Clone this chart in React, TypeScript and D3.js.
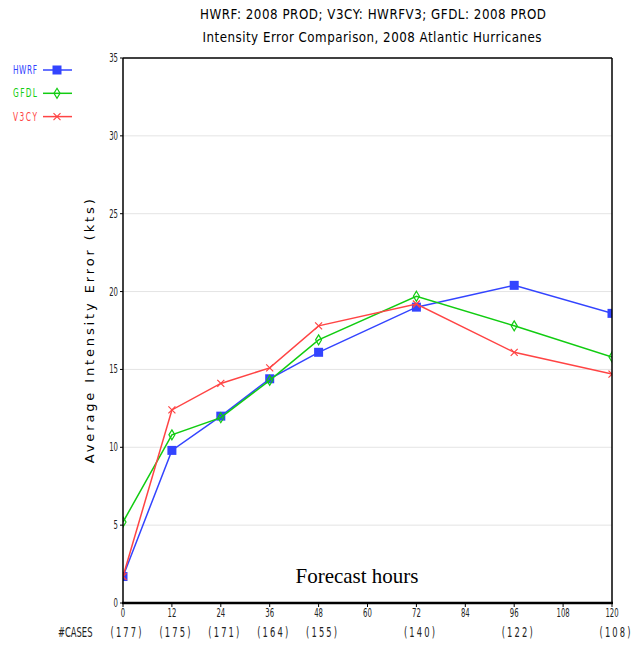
import React from 'react';
import { scaleLinear, line, range } from 'd3';

const hours = [0, 12, 24, 36, 48, 72, 96, 120];
const hwrf = [1.7, 9.8, 12.0, 14.4, 16.1, 19.0, 20.4, 18.6];
const gfdl = [5.2, 10.8, 11.9, 14.3, 16.9, 19.7, 17.8, 15.8];
const v3cy = [1.7, 12.4, 14.1, 15.1, 17.8, 19.2, 16.1, 14.7];
const cases = ['(177)', '(175)', '(171)', '(164)', '(155)', '(140)', '(122)', '(108)'];
const xTicks = range(0, 121, 12);
const yTicks = [0, 5, 10, 15, 20, 25, 30, 35];

const series = [
  { name: 'HWRF', values: hwrf, color: '#3344ff', marker: 'square' },
  { name: 'GFDL', values: gfdl, color: '#11cc11', marker: 'diamond' },
  { name: 'V3CY', values: v3cy, color: '#ff4444', marker: 'cross' },
];

const sans = '"DejaVu Sans", sans-serif';

// squeezed text, like the narrow plotting font of the original
function Narrow({
  x,
  y,
  size,
  sx = 0.72,
  len,
  anchor = 'start',
  fill = '#000',
  children,
}: {
  x: number;
  y: number;
  size: number;
  sx?: number;
  len?: number;
  anchor?: string;
  fill?: string;
  children: React.ReactNode;
}) {
  return (
    <g transform={`translate(${x},${y}) scale(${sx},1)`}>
      <text
        textAnchor={anchor}
        fontFamily={sans}
        fontSize={size}
        fill={fill}
        textLength={len ? len / sx : undefined}
        lengthAdjust={len ? 'spacing' : undefined}
      >
        {children}
      </text>
    </g>
  );
}

function Marker({ type, x, y, color }: { type: string; x: number; y: number; color: string }) {
  if (type === 'square') {
    return <rect x={x - 4.5} y={y - 4.5} width={9} height={9} fill={color} />;
  }
  if (type === 'diamond') {
    return (
      <path
        d={`M${x},${y - 5}L${x + 3},${y}L${x},${y + 5}L${x - 3},${y}Z`}
        fill="none"
        stroke={color}
        strokeWidth={1.2}
      />
    );
  }
  return (
    <path
      d={`M${x - 3.5},${y - 3.5}L${x + 3.5},${y + 3.5}M${x + 3.5},${y - 3.5}L${x - 3.5},${y + 3.5}`}
      stroke={color}
      strokeWidth={1.2}
    />
  );
}

export default function App() {
  const width = 634;
  const height = 646;
  const left = 123;
  const right = 612;
  const top = 58;
  const bottom = 603;

  const x = scaleLinear().domain([0, 120]).range([left, right]);
  const y = scaleLinear().domain([0, 35]).range([bottom, top]);

  const lineGen = line<number>()
    .x((d, i) => x(hours[i]))
    .y((d) => y(d));

  return (
    <svg
      width={width}
      height={height}
      style={{ position: 'absolute', left: 0, top: 0, background: '#fff' }}
    >
      <defs>
        <clipPath id="plot">
          <rect x={left} y={top} width={right - left} height={bottom - top} />
        </clipPath>
      </defs>

      {/* titles */}
      <Narrow x={373} y={19} size={14} sx={0.85} len={346} anchor="middle">
        HWRF: 2008 PROD; V3CY: HWRFV3; GFDL: 2008 PROD
      </Narrow>
      <Narrow x={372} y={42} size={14} sx={0.85} len={339} anchor="middle">
        Intensity Error Comparison, 2008 Atlantic Hurricanes
      </Narrow>

      {/* grid */}
      {yTicks.slice(1, -1).map((t) => (
        <line key={t} x1={left} x2={right} y1={y(t)} y2={y(t)} stroke="#e4e4e4" strokeWidth={1} />
      ))}

      {/* series */}
      <g clipPath="url(#plot)">
        {series.map((s) => (
          <g key={s.name}>
            <path d={lineGen(s.values) ?? ''} fill="none" stroke={s.color} strokeWidth={1.5} />
            {s.values.map((v, i) => (
              <Marker key={i} type={s.marker} x={x(hours[i])} y={y(v)} color={s.color} />
            ))}
          </g>
        ))}
      </g>

      {/* frame */}
      <line x1={left} x2={right} y1={top} y2={top} stroke="#000" strokeWidth={1.5} />
      <line x1={right} x2={right} y1={top} y2={bottom} stroke="#000" strokeWidth={1.5} />
      <line x1={left} x2={left} y1={top} y2={bottom} stroke="#000" strokeWidth={1.5} />
      <line x1={left - 1} x2={right + 1} y1={bottom} y2={bottom} stroke="#000" strokeWidth={2.5} />

      {/* y ticks */}
      {yTicks.map((t) => (
        <g key={t}>
          <line x1={left - 3} x2={left} y1={y(t)} y2={y(t)} stroke="#000" />
          <Narrow x={left - 5} y={y(t) + 4} size={11.5} sx={0.6} anchor="end" fill="#222">
            {t}
          </Narrow>
        </g>
      ))}

      {/* x ticks */}
      {xTicks.map((t) => (
        <g key={t}>
          <line x1={x(t)} x2={x(t)} y1={bottom} y2={bottom + 4} stroke="#000" />
          <Narrow x={x(t)} y={bottom + 14} size={11.5} sx={0.6} anchor="middle" fill="#222">
            {t}
          </Narrow>
        </g>
      ))}

      {/* cases */}
      <Narrow x={58} y={637} size={13.5} sx={0.62} fill="#222">
        #CASES
      </Narrow>
      {cases.map((c, i) => (
        <Narrow
          key={i}
          x={x(hours[i]) + 3}
          y={637}
          size={13.5}
          sx={0.62}
          len={31}
          anchor="middle"
          fill="#222"
        >
          {c}
        </Narrow>
      ))}

      <text x={357} y={583} textAnchor="middle" fontFamily="'Liberation Serif', serif" fontSize={21}>
        Forecast hours
      </text>

      {/* y label */}
      <text
        transform={`translate(94,${y(17.45)}) rotate(-90)`}
        textAnchor="middle"
        fontFamily={sans}
        fontSize={13}
        textLength={264}
        lengthAdjust="spacing"
      >
        Average Intensity Error (kts)
      </text>

      {/* legend */}
      {series.map((s, i) => {
        const ly = 70 + i * 23.3;
        return (
          <g key={s.name}>
            <Narrow x={13} y={ly + 4} size={12} sx={0.62} len={24} fill={s.color}>
              {s.name}
            </Narrow>
            <line x1={43} x2={72} y1={ly} y2={ly} stroke={s.color} strokeWidth={1.5} />
            <Marker type={s.marker} x={57} y={ly} color={s.color} />
          </g>
        );
      })}
    </svg>
  );
}
